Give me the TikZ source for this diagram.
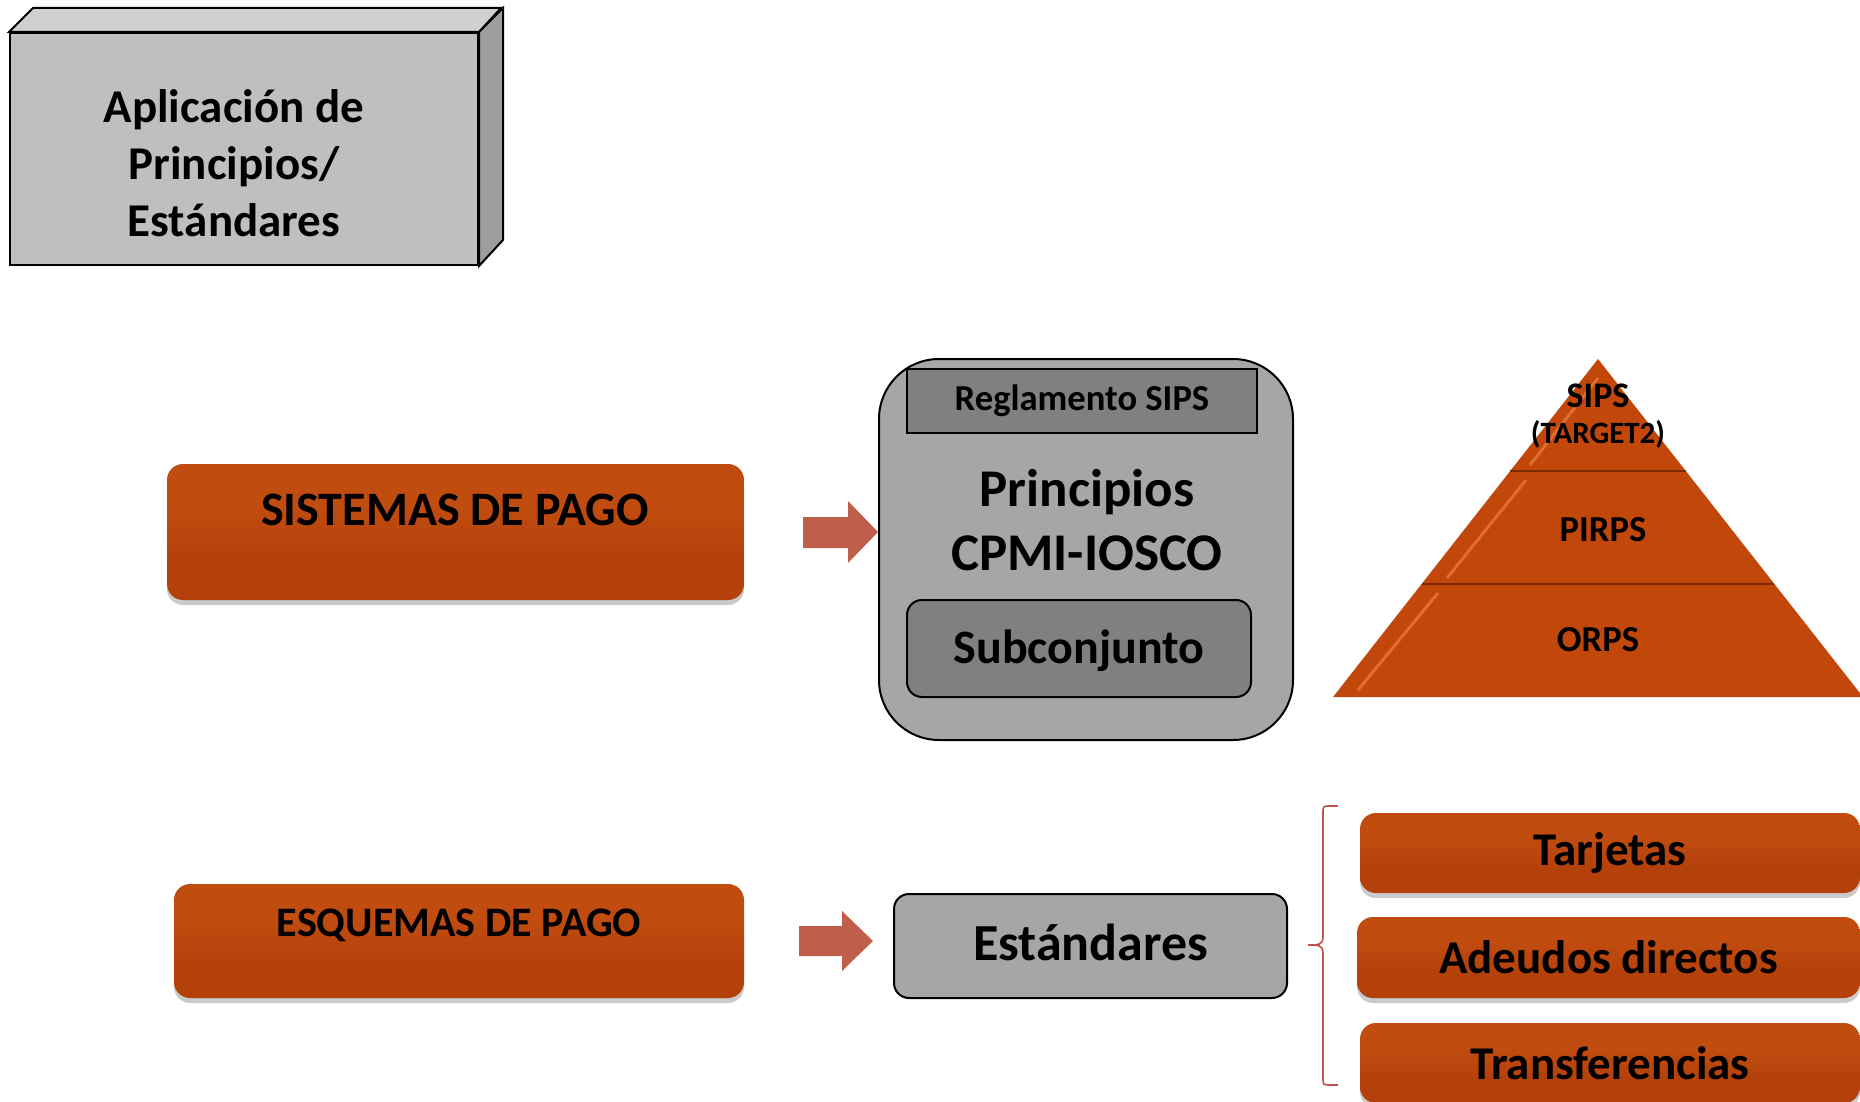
\documentclass[tikz,border=0pt]{standalone}
\usepackage{fontspec}
\setmainfont{Carlito}
\usetikzlibrary{shadows}
\definecolor{oraL}{HTML}{F28A4C}
\definecolor{oraM}{HTML}{C04C10}
\definecolor{oraD}{HTML}{B4410A}
\definecolor{pyrFill}{HTML}{C2470B}
\definecolor{pyrLine}{HTML}{7A2C06}
\definecolor{arrRed}{HTML}{BF5E4A}
\definecolor{braceRed}{HTML}{C0504D}
\definecolor{grayA}{HTML}{A6A6A6}
\definecolor{grayB}{HTML}{808080}
\definecolor{boxFront}{HTML}{BFBFBF}
\definecolor{boxTop}{HTML}{D0D0D0}
\definecolor{boxSide}{HTML}{9D9D9D}
\pgfdeclareverticalshading{glossy}{100bp}{color(0bp)=(oraD); color(40bp)=(oraD); color(60bp)=(oraM); color(86bp)=(oraM); color(100bp)=(oraL)}
\newcommand\fsz[2]{\fontsize{#1}{#2}\selectfont\bfseries}
\tikzset{
  orabox/.style={rounded corners=8pt, shading=glossy, inner sep=0pt,
    drop shadow={shadow xshift=0pt, shadow yshift=-2.5pt, opacity=.35, fill=black!60}},
  graybox/.style={draw=black, line width=1pt, fill=grayA, inner sep=0pt},
  txt/.style={inner sep=0pt, align=center},
  blkarrow/.style={fill=arrRed},
  bevel/.style={oraL, opacity=.6, line width=1.5pt},
}
\begin{document}
\begin{tikzpicture}[x=0.5pt,y=-0.5pt]
\useasboundingbox (0,0) rectangle (1860,1102);

\node[draw=black, line width=1pt, fill=boxFront, inner sep=0pt, minimum width=234pt, minimum height=116pt] (aplic) at (244,149) {};
\filldraw[line width=1pt, fill=boxTop] (aplic.north west) -- ++(24,-24) -- ++(468,0) -- (aplic.north east) -- cycle;
\filldraw[line width=1pt, fill=boxSide] (aplic.north east) -- ++(24,-24) -- ++(0,232) -- (aplic.south east) -- cycle;
\node[txt, font=\fsz{23.5}{28.5}] (aplic-t) at (234,163) {Aplicación de\\Principios/\\Estándares};

\node[orabox, minimum width=288.5pt, minimum height=68pt] (sist) at (455.5,532) {};
\node[txt, font=\fsz{24}{28}] (sist-t) at (455,510) {SISTEMAS DE PAGO};
\node[orabox, minimum width=285pt, minimum height=57pt] (esq) at (459,941) {};
\node[txt, font=\fsz{21}{25}] (esq-t) at (459,925) {ESQUEMAS DE PAGO};

\node[graybox, rounded corners=30pt, minimum width=207pt, minimum height=190.5pt] (cpmi) at (1086,549.5) {};
\node[graybox, fill=grayB, minimum width=175pt, minimum height=32pt, font=\fsz{18.3}{22}] (regl) at (1082,401) {Reglamento SIPS};
\node[txt, font=\fsz{26.5}{32}] (prin) at (1087,520) {Principios\\CPMI-IOSCO};
\node[graybox, fill=grayB, rounded corners=7.5pt, minimum width=172pt, minimum height=48.5pt, text depth=2pt, font=\fsz{24}{28}] (subc) at (1079,648.5) {Subconjunto};
\node[graybox, rounded corners=7.5pt, minimum width=196.5pt, minimum height=52pt, text depth=4pt, font=\fsz{26}{30}] (est) at (1090.5,946) {Estándares};

\coordinate (tip1) at (cpmi.west |- sist.east);
\fill[blkarrow] (tip1) -- ++(-30,-31) -- ++(0,16) -- ++(-45,0) -- ++(0,31) -- ++(45,0) -- ++(0,15) -- cycle;
\coordinate (tip2) at ([xshift=-10pt]est.west |- esq.east);
\fill[blkarrow] (tip2) -- ++(-31,-30) -- ++(0,15) -- ++(-43,0) -- ++(0,30) -- ++(43,0) -- ++(0,15) -- cycle;

\coordinate (apex) at (1598,359);
\fill[pyrFill] (apex) -- (1863,697) -- (1333,697) -- cycle;
\draw[bevel] (1598,378) -- (1530,465) (1526,480) -- (1447,578) (1438,593) -- (1358,690);
\draw[pyrLine, line width=1pt] (1510,471) -- (1686,471) (1422,584) -- (1774,584);
\node[txt, font=\fsz{18}{22}] (sips) at (1598,396) {SIPS};
\node[txt, font=\fsz{15.5}{18}] (target) at (1598,434) {(TARGET2)};
\node[txt, font=\fsz{18.3}{22}] (pirps) at (1603,530) {PIRPS};
\node[txt, font=\fsz{18.3}{22}] (orps) at (1598,640) {ORPS};

\node[orabox, minimum width=250pt, minimum height=40pt, font=\fsz{23.5}{28}] (tarj) at (1610,853) {Tarjetas};
\node[orabox, minimum width=251.5pt, minimum height=40.5pt, font=\fsz{23.5}{28}] (adeu) at (1608.5,957.5) {Adeudos directos};
\node[orabox, minimum width=250pt, minimum height=40pt, font=\fsz{23.5}{28}] (trans) at (1610,1063) {Transferencias};

\coordinate (btip) at (1308,945);
\draw[braceRed, line width=0.8pt] (btip) .. controls ++(10,0) and (1323,945) .. (1323,937) -- (1323,813) .. controls (1323,806) .. (1331,806) -- (1338,806)
  (btip) .. controls ++(10,0) and (1323,945) .. (1323,953) -- (1323,1078) .. controls (1323,1085) .. (1331,1085) -- (1338,1085);
\end{tikzpicture}
\end{document}
